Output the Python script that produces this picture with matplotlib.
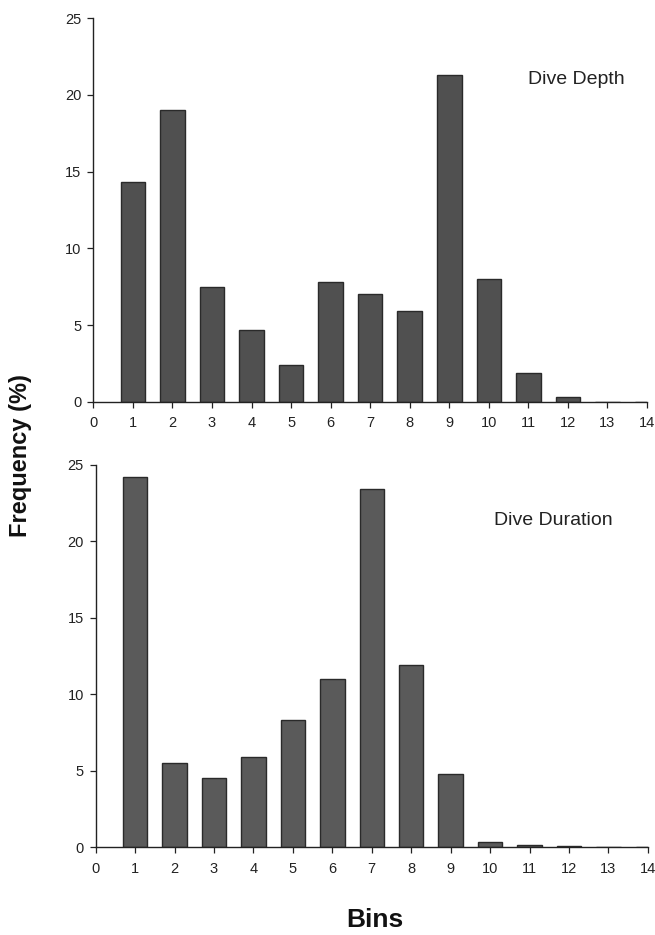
import matplotlib
matplotlib.use("Agg")
import matplotlib.pyplot as plt

plt.rcParams['font.family'] = ['Liberation Sans', 'DejaVu Sans']

bins = list(range(1, 15))
depth = [14.3, 19.0, 7.5, 4.7, 2.4, 7.8, 7.0, 5.9, 21.3, 8.0, 1.9, 0.3, 0.0, 0.0]
duration = [24.2, 5.5, 4.5, 5.9, 8.3, 11.0, 23.4, 11.9, 4.8, 0.3, 0.1, 0.05, 0.0, 0.0]
xticks = list(range(0, 15))
yticks = [0, 5, 10, 15, 20, 25]

fig = plt.figure(figsize=(6.55, 9.35), dpi=100)
ax1 = fig.add_axes([0.1425, 0.5704, 0.8453, 0.4100])
ax2 = fig.add_axes([0.1461, 0.0941, 0.8430, 0.4086])

def style(ax, vals, color, label, lx, ly):
    ax.bar(bins, vals, width=0.62, color=color, edgecolor='#2a2a2a', linewidth=1.0)
    ax.set_xlim(0, 14)
    ax.set_ylim(0, 25)
    ax.set_xticks(xticks)
    ax.set_yticks(yticks)
    for s in ['top', 'right']:
        ax.spines[s].set_visible(False)
    for s in ['left', 'bottom']:
        ax.spines[s].set_color('#222222')
        ax.spines[s].set_linewidth(1.0)
    ax.tick_params(axis='both', direction='out', length=4.5, width=0.9,
                   labelsize=10.5, colors='#222222')
    ax.tick_params(axis='x', pad=6)
    ax.tick_params(axis='y', pad=4)
    ax.text(lx, ly, label, fontsize=14, color='#222222', va='center')

style(ax1, depth, '#505050', 'Dive Depth', 11.0, 21.0)
style(ax2, duration, '#5a5a5a', 'Dive Duration', 10.1, 21.35)

fig.text(0.031, 0.513, 'Frequency (%)', rotation=90, fontsize=17, fontweight='bold',
         ha='center', va='center', color='#111111')
fig.text(0.573, 0.016, 'Bins', fontsize=19, fontweight='bold',
         ha='center', va='center', color='#111111')

fig.savefig('out.png', dpi=100)
